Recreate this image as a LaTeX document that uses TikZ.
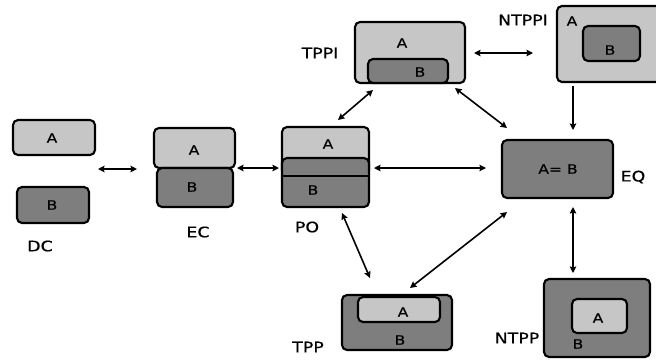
\documentclass[tikz,border=0pt]{standalone}
\usepackage{fontspec}
\setmainfont{DejaVu Sans}[FakeStretch=1.2,FakeBold=0.4]
\usetikzlibrary{arrows.meta}
\definecolor{lightg}{HTML}{C6C6C6}
\definecolor{darkg}{HTML}{7E7E7E}
\begin{document}
\begin{tikzpicture}[x=1pt,y=-1pt,
  rbox/.style={draw=black,line width=2.1pt,rounded corners=5pt,inner sep=0pt},
  lbox/.style={rbox,fill=lightg},
  dbox/.style={rbox,fill=darkg},
  letter/.style={inner sep=0pt,font=\fontsize{13}{15}\selectfont},
  lbl/.style={inner sep=0pt,font=\fontsize{14.5}{17}\selectfont},
  conn/.style={line width=1.6pt,{Stealth[length=6.5pt,width=6.5pt,inset=1pt]}-{Stealth[length=6.5pt,width=6.5pt,inset=1pt]}},
  conn1/.style={line width=1.6pt,-{Stealth[length=6.5pt,width=6.5pt,inset=1pt]}}]
\useasboundingbox (0,0) rectangle (656,360);
\clip (0,0) rectangle (656,360);
\fill[white] (0,0) rectangle (656,360);

% DC
\node[lbox,minimum width=82pt,minimum height=35pt] (dcA) at (54,137.5) {};
\node[letter] (dcAt) at (52,138) {A};
\node[dbox,minimum width=72pt,minimum height=36pt] (dcB) at (53,205) {};
\node[letter] (dcBt) at (52,205) {B};
\node[lbl] (dcL) at (40,246) {DC};

% EC
\node[lbox,minimum width=81pt,minimum height=40pt] (ecA) at (194.5,148) {};
\node[dbox,minimum width=76pt,minimum height=39pt] (ecB) at (195,187.5) {};
\node[letter] (ecAt) at (194,150) {A};
\node[letter] (ecBt) at (192,187) {B};
\node[lbl] (ecL) at (198,232) {EC};

% PO
\node[lbox,minimum width=87pt,minimum height=48pt] (poA) at (325.5,151) {};
\node[dbox,minimum width=87pt,minimum height=49pt] (poB) at (325.5,182.5) {};
\draw[line width=2.1pt] (poA.south west) -- (poA.south east);
\node[letter] (poAt) at (328,144) {A};
\node[letter] (poBt) at (313,190) {B};
\node[lbl] (poL) at (307,227) {PO};

% TPPI
\node[lbox,minimum width=110pt,minimum height=61pt] (tppi) at (410,52.5) {};
\node[dbox,minimum width=80pt,minimum height=24pt] (tppiB) at (408,71) {};
\node[letter] (tppiAt) at (402,43) {A};
\node[letter] (tppiBt) at (420,72) {B};
\node[lbl] (tppiL) at (320,53) {TPPI};

% NTPPI
\node[lbox,minimum width=120pt,minimum height=76pt] (ntppi) at (617,44) {};
\node[dbox,minimum width=57pt,minimum height=35pt] (ntppiB) at (611.5,43.5) {};
\node[letter] (ntppiAt) at (572,21) {A};
\node[letter] (ntppiBt) at (610,50) {B};
\node[lbl] (ntppiL) at (523,20) {NTPPI};

% EQ
\node[dbox,minimum width=111pt,minimum height=58pt] (eq) at (557.5,169) {};
\node[letter] (eqt) at (558,169) {A= B};
\node[lbl] (eqL) at (633,177) {EQ};

% TPP
\node[dbox,minimum width=110pt,minimum height=55pt] (tpp) at (397,322.5) {};
\node[lbox,minimum width=82pt,minimum height=25pt] (tppA) at (399,309.5) {};
\node[letter] (tppAt) at (403,312) {A};
\node[letter] (tppBt) at (400,340) {B};
\node[lbl] (tppL) at (308,347) {TPP};

% NTPP
\node[dbox,minimum width=106pt,minimum height=78pt] (ntpp) at (597,318) {};
\node[lbox,minimum width=55pt,minimum height=34pt] (ntppA) at (599.5,316) {};
\node[letter] (ntppAt) at (598,318) {A};
\node[letter] (ntppBt) at (578,344) {B};
\node[lbl] (ntppL) at (517,338) {NTPP};

% connector end points
\coordinate (c1a) at (98,169);  \coordinate (c1b) at (137,169);
\coordinate (c2a) at (237,168); \coordinate (c2b) at (279,168);
\coordinate (c3a) at (374,168); \coordinate (c3b) at (486,168);
\coordinate (c4a) at (474,53);  \coordinate (c4b) at (533,53);
\coordinate (c5a) at (573,86);  \coordinate (c5b) at (573,130);
\coordinate (c6a) at (373,90);  \coordinate (c6b) at (338,120);
\coordinate (c7a) at (455,88);  \coordinate (c7b) at (507,128);
\coordinate (c8a) at (342,213); \coordinate (c8b) at (370,278);
\coordinate (c9a) at (507,212); \coordinate (c9b) at (410,288);
\coordinate (c10a) at (573,207); \coordinate (c10b) at (573,273);

\draw[conn] (c1a) -- (c1b);
\draw[conn] (c2a) -- (c2b);
\draw[conn] (c3a) -- (c3b);
\draw[conn] (c4a) -- (c4b);
\draw[conn1] (c5a) -- (c5b);
\draw[conn] (c6a) -- (c6b);
\draw[conn] (c7a) -- (c7b);
\draw[conn] (c8a) -- (c8b);
\draw[conn] (c9a) -- (c9b);
\draw[conn] (c10a) -- (c10b);
\end{tikzpicture}
\end{document}
